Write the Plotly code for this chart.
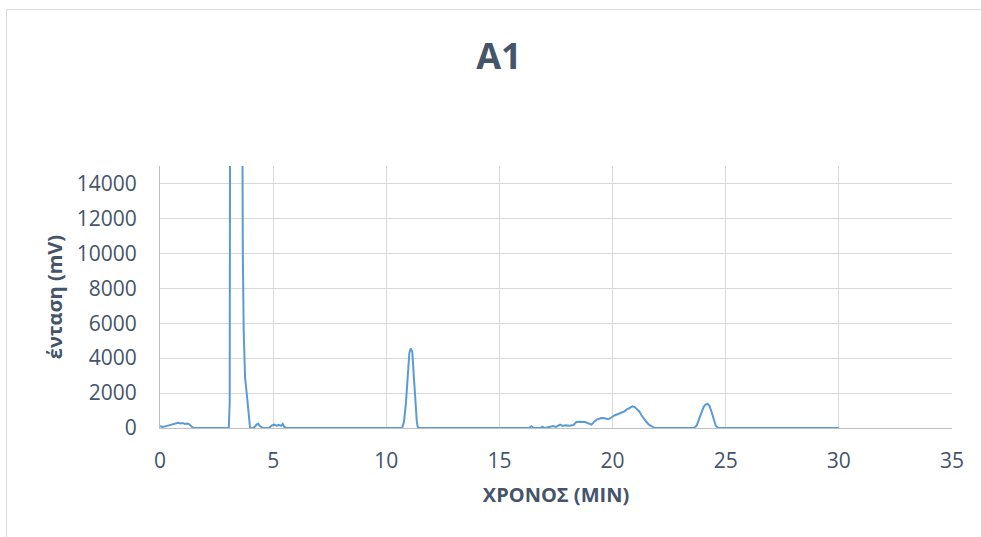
import plotly.graph_objects as go

# Chromatogram A1: retention time (min) vs detector signal (mV)
time_min = [
    0.00, 0.10, 0.20, 0.30, 0.40, 0.50, 0.60, 0.70, 0.80, 0.90,
    1.00, 1.10, 1.20, 1.30, 1.40, 1.50, 1.60, 2.50, 3.00, 3.04,
    3.08, 3.12, 3.20, 3.35, 3.50, 3.58, 3.62, 3.66, 3.70, 3.73,
    3.76, 3.87, 3.98, 4.10, 4.18, 4.26, 4.34, 4.40, 4.48, 4.56,
    4.80, 4.95, 5.05, 5.15, 5.25, 5.35, 5.42, 5.50, 5.60, 8.00,
    10.70, 10.78, 10.86, 10.94, 11.02, 11.08, 11.15, 11.22, 11.29, 11.35,
    11.40, 14.00, 16.30, 16.42, 16.50, 16.80, 16.90, 17.00, 17.25, 17.38,
    17.50, 17.68, 17.80, 17.90, 18.10, 18.27, 18.40, 18.55, 18.78, 18.92,
    19.07, 19.20, 19.30, 19.44, 19.51, 19.65, 19.81, 19.95, 20.10, 20.25,
    20.40, 20.52, 20.62, 20.75, 20.88, 20.98, 21.06, 21.18, 21.28, 21.40,
    21.50, 21.62, 21.72, 21.87, 23.00, 23.60, 23.72, 23.82, 23.92, 24.02,
    24.10, 24.19, 24.28, 24.38, 24.47, 24.56, 24.67, 27.00, 30.00,
]
signal_mv = [
    120, 60, 80, 110, 150, 170, 210, 250, 300, 260,
    290, 230, 250, 210, 70, 5, 0, 0, 0, 0,
    1500, 40000, 80000, 95000, 70000, 40000, 22000, 10000, 5500, 3800,
    2900, 1500, 0, 0, 60, 180, 250, 130, 40, 0,
    0, 150, 190, 130, 175, 120, 240, 40, 0, 0,
    0, 350, 1300, 2800, 4300, 4550, 4370, 2900, 1300, 350,
    0, 0, 0, 100, 0, 0, 80, 0, 60, 110,
    60, 190, 120, 150, 130, 170, 340, 360, 340, 280,
    190, 380, 480, 540, 570, 560, 500, 600, 730, 800,
    860, 950, 1050, 1130, 1240, 1200, 1110, 950, 730, 500,
    340, 180, 100, 0, 0, 0, 150, 450, 850, 1200,
    1330, 1390, 1270, 900, 450, 130, 0, 0, 0,
]

x_ticks = [0, 5, 10, 15, 20, 25, 30, 35]
y_ticks = [0, 2000, 4000, 6000, 8000, 10000, 12000, 14000]

text_color = "#44546A"
grid_color = "#D9D9D9"
font_family = "Open Sans, Liberation Sans, sans-serif"

fig = go.Figure()
fig.add_trace(go.Scatter(
    x=time_min,
    y=signal_mv,
    mode="lines",
    line=dict(color="#5B9BD5", width=2),
    cliponaxis=True,
    showlegend=False,
    hoverinfo="x+y",
))

fig.update_layout(
    width=981,
    height=537,
    margin=dict(l=160, r=29, t=166, b=109),
    paper_bgcolor="white",
    plot_bgcolor="white",
    font=dict(family=font_family, color=text_color, size=21),
    title=dict(
        text="<b>A1</b>",
        x=499 / 981,
        xanchor="center",
        xref="container",
        y=1 - 56 / 537,
        yanchor="middle",
        yref="container",
        font=dict(size=36, color=text_color, family=font_family),
    ),
    xaxis=dict(
        range=[0, 35],
        tickvals=x_ticks,
        ticktext=[str(v) for v in x_ticks],
        showgrid=True,
        gridcolor=grid_color,
        gridwidth=1,
        zeroline=False,
        showline=True,
        linecolor="#BFBFBF",
        linewidth=1,
        ticks="outside",
        ticklen=14,
        tickcolor="rgba(0,0,0,0)",
        tickfont=dict(size=21, color=text_color),
        title=dict(
            text="<b>ΧΡΟΝΟΣ (MIN)</b>",
            font=dict(size=20, color=text_color),
            standoff=14,
        ),
        fixedrange=True,
    ),
    yaxis=dict(
        range=[0, 15000],
        tickvals=y_ticks,
        ticktext=[str(v) for v in y_ticks],
        showgrid=True,
        gridcolor=grid_color,
        gridwidth=1,
        zeroline=False,
        showline=True,
        linecolor="#BFBFBF",
        linewidth=1,
        ticks="outside",
        ticklen=18,
        tickcolor="rgba(0,0,0,0)",
        tickfont=dict(size=21, color=text_color),
        title=dict(
            text="<b>ένταση (mV)</b>",
            font=dict(size=20, color=text_color),
            standoff=8,
        ),
        fixedrange=True,
    ),
    shapes=[
        # light frame around the chart area
        dict(
            type="rect",
            xref="paper", yref="paper",
            x0=(6.5 - 160) / 792, x1=(1000 - 160) / 792,
            y0=(428 - 560) / 262, y1=(428 - 9.5) / 262,
            line=dict(color="#D9D9D9", width=1),
            fillcolor="rgba(0,0,0,0)",
            layer="below",
        ),
    ],
)

fig.write_html("out.html")
